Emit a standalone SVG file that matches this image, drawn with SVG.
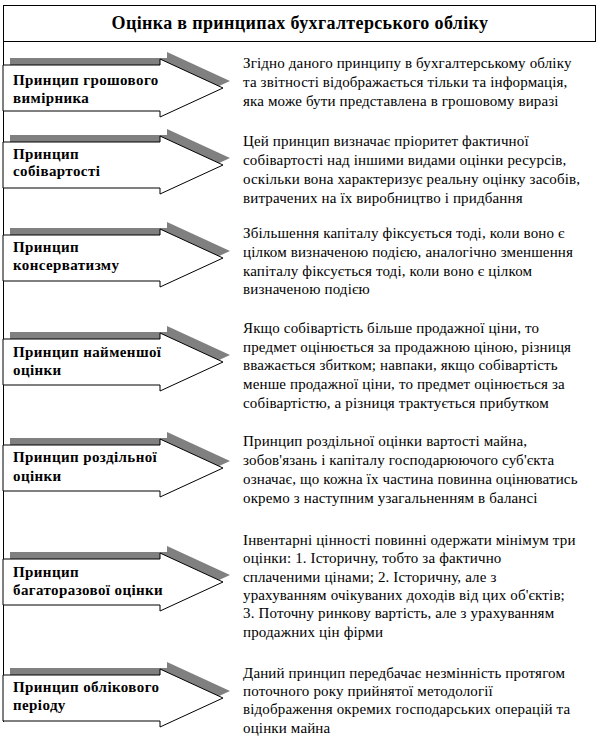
<svg xmlns="http://www.w3.org/2000/svg" width="610" height="748" viewBox="0 0 610 748">
<defs>
<style>
.title{font-family:"Liberation Serif","Times New Roman","DejaVu Serif",serif;font-size:18px;font-weight:bold;letter-spacing:0.35px;fill:#000}
.lbl{font-family:"Liberation Serif","Times New Roman","DejaVu Serif",serif;font-size:15px;font-weight:bold;letter-spacing:0.4px;fill:#000}
.desc{font-family:"Liberation Serif","Times New Roman","DejaVu Serif",serif;font-size:15px;letter-spacing:0.15px;fill:#000}
.shadow{fill:#808080;stroke:none}
.arrow{fill:#fff;stroke:#000;stroke-width:1}
.frame{fill:#fff;stroke:#000;stroke-width:1}
</style>
<polygon id="arrowShape" points="3,0 160,0 160,-6 223,23 160,52 160,46 3,46"/>
<polygon id="shadowShape" points="10,-7 167,-7 167,-13 230,16 167,45 167,39 10,39"/>
</defs>
<rect width="610" height="748" fill="#fff"/>
<g id="title">
<rect class="frame" x="3.5" y="5.5" width="592" height="36"/>
<text class="title" x="300" y="29" text-anchor="middle">Оцінка в принципах бухгалтерського обліку</text>
</g>
<g id="connectors">
<line x1="3.5" y1="41.5" x2="3.5" y2="722" stroke="#000" stroke-width="1"/>
</g>
<g id="p1" transform="translate(0,65)">
<use href="#shadowShape" class="shadow"/>
<use href="#arrowShape" class="arrow"/>
<text class="lbl" x="13" y="20">Принцип грошового</text>
<text class="lbl" x="13" y="38">вимірника</text>
</g>
<g id="d1">
<text class="desc" x="243" y="68">Згідно даного принципу в бухгалтерському обліку</text>
<text class="desc" x="243" y="87">та звітності відображається тільки та інформація,</text>
<text class="desc" x="243" y="106">яка може бути представлена в грошовому виразі</text>
</g>
<g id="p2" transform="translate(0,142)">
<use href="#shadowShape" class="shadow"/>
<use href="#arrowShape" class="arrow"/>
<text class="lbl" x="13" y="17">Принцип</text>
<text class="lbl" x="13" y="34">собівартості</text>
</g>
<g id="d2">
<text class="desc" x="243" y="146">Цей принцип визначає пріоритет фактичної</text>
<text class="desc" x="243" y="165">собівартості над іншими видами оцінки ресурсів,</text>
<text class="desc" x="243" y="184">оскільки вона характеризує реальну оцінку засобів,</text>
<text class="desc" x="243" y="203">витрачених на їх виробництво і придбання</text>
</g>
<g id="p3" transform="translate(0,235)">
<use href="#shadowShape" class="shadow"/>
<use href="#arrowShape" class="arrow"/>
<text class="lbl" x="13" y="17">Принцип</text>
<text class="lbl" x="13" y="35">консерватизму</text>
</g>
<g id="d3">
<text class="desc" x="243" y="238">Збільшення капіталу фіксується тоді, коли воно є</text>
<text class="desc" x="243" y="257">цілком визначеною подією, аналогічно зменшення</text>
<text class="desc" x="243" y="276">капіталу фіксується тоді, коли воно є  цілком</text>
<text class="desc" x="243" y="294">визначеною подією</text>
</g>
<g id="p4" transform="translate(0,339)">
<use href="#shadowShape" class="shadow"/>
<use href="#arrowShape" class="arrow"/>
<text class="lbl" x="13" y="18">Принцип найменшої</text>
<text class="lbl" x="13" y="36">оцінки</text>
</g>
<g id="d4">
<text class="desc" x="243" y="333">Якщо собівартість більше продажної ціни, то</text>
<text class="desc" x="243" y="352">предмет оцінюється за продажною ціною, різниця</text>
<text class="desc" x="243" y="370">вважається збитком; навпаки, якщо собівартість</text>
<text class="desc" x="243" y="389">менше продажної ціни, то предмет оцінюється за</text>
<text class="desc" x="243" y="408">собівартістю, а різниця трактується прибутком</text>
</g>
<g id="p5" transform="translate(0,445)">
<use href="#shadowShape" class="shadow"/>
<use href="#arrowShape" class="arrow"/>
<text class="lbl" x="13" y="17">Принцип роздільної</text>
<text class="lbl" x="13" y="36">оцінки</text>
</g>
<g id="d5">
<text class="desc" x="243" y="446">Принцип роздільної оцінки вартості майна,</text>
<text class="desc" x="243" y="465">зобов'язань і капіталу господарюючого суб'єкта</text>
<text class="desc" x="243" y="484">означає, що кожна їх частина повинна оцінюватись</text>
<text class="desc" x="243" y="503">окремо з наступним узагальненням в балансі</text>
</g>
<g id="p6" transform="translate(0,559)">
<use href="#shadowShape" class="shadow"/>
<use href="#arrowShape" class="arrow"/>
<text class="lbl" x="13" y="18">Принцип</text>
<text class="lbl" x="13" y="36">багаторазової оцінки</text>
</g>
<g id="d6">
<text class="desc" x="243" y="545">Інвентарні цінності повинні одержати мінімум три</text>
<text class="desc" x="243" y="563">оцінки: 1. Історичну, тобто за фактично</text>
<text class="desc" x="243" y="582">сплаченими цінами; 2. Історичну, але з</text>
<text class="desc" x="243" y="600">урахуванням очікуваних доходів від цих об'єктів;</text>
<text class="desc" x="243" y="618">3. Поточну ринкову вартість, але з урахуванням</text>
<text class="desc" x="243" y="637">продажних цін фірми</text>
</g>
<g id="p7" transform="translate(0,675)">
<use href="#shadowShape" class="shadow"/>
<use href="#arrowShape" class="arrow"/>
<text class="lbl" x="13" y="17">Принцип облікового</text>
<text class="lbl" x="13" y="35">періоду</text>
</g>
<g id="d7">
<text class="desc" x="243" y="678">Даний принцип передбачає незмінність протягом</text>
<text class="desc" x="243" y="696">поточного року прийнятої методології</text>
<text class="desc" x="243" y="714">відображення окремих господарських операцій та</text>
<text class="desc" x="243" y="733">оцінки майна</text>
</g>
</svg>
